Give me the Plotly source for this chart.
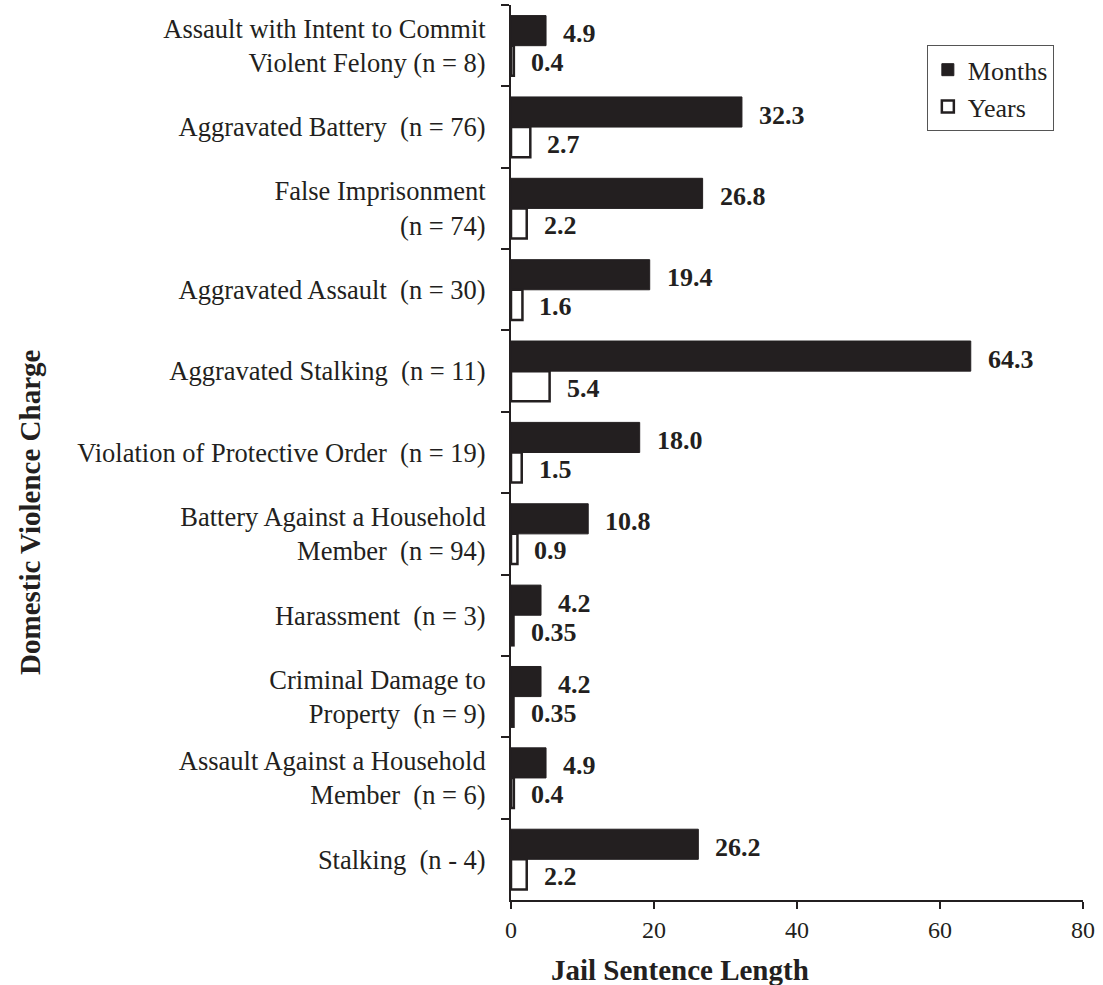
import plotly.graph_objects as go

categories = [
    "Assault with Intent to Commit<br>Violent Felony (n = 8)",
    "Aggravated Battery\u00a0\u00a0(n = 76)",
    "False Imprisonment<br>(n = 74)",
    "Aggravated Assault\u00a0\u00a0(n = 30)",
    "Aggravated Stalking\u00a0\u00a0(n = 11)",
    "Violation of Protective Order\u00a0\u00a0(n = 19)",
    "Battery Against a Household<br>Member\u00a0\u00a0(n = 94)",
    "Harassment\u00a0\u00a0(n = 3)",
    "Criminal Damage to<br>Property\u00a0\u00a0(n = 9)",
    "Assault Against a Household<br>Member\u00a0\u00a0(n = 6)",
    "Stalking\u00a0\u00a0(n - 4)",
]
months = [4.9, 32.3, 26.8, 19.4, 64.3, 18.0, 10.8, 4.2, 4.2, 4.9, 26.2]
years = [0.4, 2.7, 2.2, 1.6, 5.4, 1.5, 0.9, 0.35, 0.35, 0.4, 2.2]
months_labels = ["4.9", "32.3", "26.8", "19.4", "64.3", "18.0", "10.8", "4.2", "4.2", "4.9", "26.2"]
years_labels = ["0.4", "2.7", "2.2", "1.6", "5.4", "1.5", "0.9", "0.35", "0.35", "0.4", "2.2"]
x_ticks = [0, 20, 40, 60, 80]

FONT = "Liberation Serif, Times New Roman, serif"
DARK = "#231f20"

fig = go.Figure()
fig.add_trace(go.Bar(
    y=categories, x=months, orientation="h", name="Months",
    marker=dict(color=DARK, line=dict(color=DARK, width=1)),
))
fig.add_trace(go.Bar(
    y=categories, x=years, orientation="h", name="Years",
    marker=dict(color="white", line=dict(color=DARK, width=2.5)),
))

for c, v, t in zip(categories, months, months_labels):
    fig.add_annotation(x=v, y=c, text="<b>%s</b>" % t, showarrow=False,
                       xanchor="left", yanchor="middle", xshift=15, yshift=12,
                       font=dict(family=FONT, size=26, color=DARK))
for c, v, t in zip(categories, years, years_labels):
    fig.add_annotation(x=v, y=c, text="<b>%s</b>" % t, showarrow=False,
                       xanchor="left", yanchor="middle", xshift=15, yshift=-17,
                       font=dict(family=FONT, size=26, color=DARK))

# axis titles (placed as in the reference, off-centre)
fig.add_annotation(xref="paper", yref="paper", x=0.2955, y=-0.078,
                   text="<b>Jail Sentence Length</b>", showarrow=False,
                   xanchor="center", yanchor="middle",
                   font=dict(family=FONT, size=29, color=DARK))
fig.add_annotation(xref="paper", yref="paper", x=-0.841, y=0.4335,
                   text="<b>Domestic Violence Charge</b>", showarrow=False,
                   textangle=-90, xanchor="center", yanchor="middle",
                   font=dict(family=FONT, size=29, color=DARK))

fig.update_layout(
    width=1103, height=985,
    margin=dict(l=511, r=20, t=5, b=85),
    plot_bgcolor="white", paper_bgcolor="white",
    barmode="group", bargap=0.26, bargroupgap=0,
    font=dict(family=FONT, size=24, color=DARK),
    showlegend=True,
    legend=dict(x=0.727, y=0.955, xanchor="left", yanchor="top",
                bordercolor="#555555", borderwidth=1, bgcolor="white",
                font=dict(family=FONT, size=26, color=DARK),
                itemwidth=30, tracegroupgap=0),
    xaxis=dict(
        range=[0, 80], tickvals=x_ticks, ticktext=[str(v) for v in x_ticks],
        showgrid=False, zeroline=False, showline=True, linecolor=DARK, linewidth=2,
        ticks="outside", ticklen=7, tickwidth=2, tickcolor=DARK,
        tickfont=dict(family=FONT, size=24, color=DARK),
    ),
    yaxis=dict(
        autorange="reversed", showgrid=False, zeroline=False,
        showline=True, linecolor=DARK, linewidth=2,
        ticks="outside", ticklen=8, tickwidth=2, tickcolor=DARK,
        tickson="boundaries", ticklabelstandoff=18,
        tickfont=dict(family=FONT, size=26.5, color=DARK),
    ),
)

fig.write_html("out.html", config={"displayModeBar": False},
               post_script="document.body.style.margin='0px';")
